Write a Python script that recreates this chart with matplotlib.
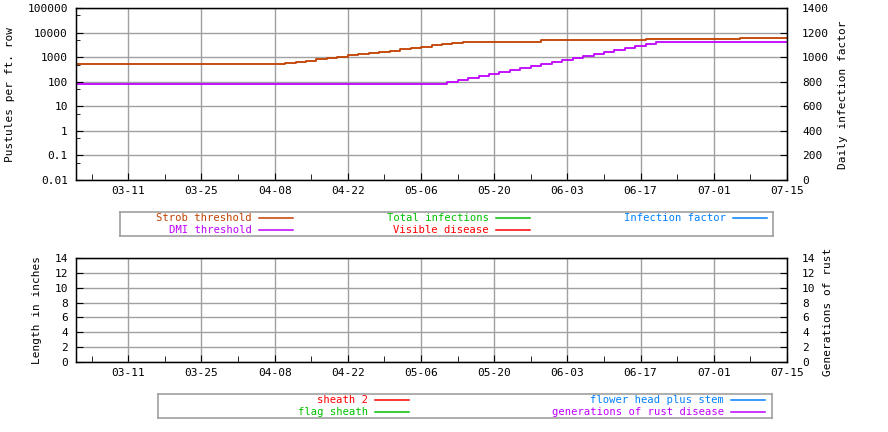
import matplotlib
matplotlib.use("Agg")
from matplotlib import pyplot as plt
from matplotlib.lines import Line2D
import matplotlib.dates as mdates
import matplotlib.ticker as mticker
import pandas as pd

YEAR = "2023-"
W, H = 888, 432

# strob threshold (pustules per ft. row), step line
strob_dates = ["03-01", "04-08", "04-10", "04-12", "04-14", "04-16", "04-18", "04-20", "04-22",
               "04-24", "04-26", "04-28", "04-30", "05-02", "05-04", "05-06", "05-08", "05-10",
               "05-12", "05-14", "05-29", "06-18", "07-06", "07-15"]
strob_vals = [510, 510, 575, 645, 725, 815, 930, 1050, 1175,
              1320, 1480, 1660, 1860, 2090, 2400, 2690, 3020, 3390,
              3800, 4270, 4900, 5400, 5900, 5900]

# DMI threshold
dmi_dates = ["03-01", "05-09", "05-11", "05-13", "05-15", "05-17", "05-19", "05-21", "05-23",
             "05-25", "05-27", "05-29", "05-31", "06-02", "06-04", "06-06", "06-08", "06-10",
             "06-12", "06-14", "06-16", "06-18", "06-20", "07-15"]
dmi_vals = [80, 81, 98, 118, 142, 171, 209, 251, 302,
            363, 437, 525, 631, 759, 912, 1100, 1350, 1620,
            1950, 2340, 2820, 3390, 4070, 4070]

# series with no data in this run
total_inf = []
visible = []
inf_factor = []
sheath2 = []
flag_sheath = []
flower_head = []
generations = []

xtick_labels = ["03-11", "03-25", "04-08", "04-22", "05-06", "05-20", "06-03", "06-17", "07-01", "07-15"]

def d(lst):
    return pd.to_datetime([YEAR + s for s in lst])

GRID = "#a0a0a0"
FONT = "DejaVu Sans Mono"
FS = 8
plt.rcParams["font.family"] = FONT
plt.rcParams["font.size"] = FS

fig = plt.figure(figsize=(W / 100, H / 100), dpi=100)

def setup_x(ax):
    ax.set_xlim(pd.Timestamp(YEAR + "03-01"), pd.Timestamp(YEAR + "07-15"))
    ax.xaxis.set_major_locator(mticker.FixedLocator(mdates.date2num(d(xtick_labels))))
    ax.xaxis.set_major_formatter(mticker.FixedFormatter(xtick_labels))
    ax.xaxis.set_minor_locator(mticker.FixedLocator(
        mdates.date2num(pd.date_range(YEAR + "03-04", YEAR + "07-15", freq="7D"))))
    ax.tick_params(axis="x", which="both", direction="in", top=False, pad=4.5)
    ax.tick_params(axis="x", which="major", length=5)
    ax.tick_params(axis="x", which="minor", length=4)
    ax.grid(True, which="major", color=GRID, lw=1.0)
    ax.set_axisbelow(True)
    for s in ax.spines.values():
        s.set_linewidth(1.0)

# ---- top chart
ax = fig.add_axes([76 / W, 1 - 180 / H, 711 / W, 172 / H])
ax.set_yscale("log")
ax.set_ylim(0.01, 100000)
setup_x(ax)
ax.yaxis.set_major_locator(mticker.LogLocator(base=10, numticks=20))
ax.yaxis.set_minor_locator(mticker.LogLocator(base=10, subs=(5,), numticks=20))
ax.yaxis.set_minor_formatter(mticker.NullFormatter())
ax.yaxis.set_major_formatter(mticker.FuncFormatter(lambda v, p: "{:g}".format(v)))
ax.tick_params(axis="y", which="both", direction="in", right=False, pad=5.8)
ax.tick_params(axis="y", which="major", length=5)
ax.tick_params(axis="y", which="minor", length=3)

l_strob, = ax.plot(d(strob_dates), strob_vals, drawstyle="steps-post", color="#c04000", lw=1.3, label="Strob threshold")
l_dmi, = ax.plot(d(dmi_dates), dmi_vals, drawstyle="steps-post", color="#c000ff", lw=1.3, label="DMI threshold")
l_tot, = ax.plot(d(total_inf), total_inf, color="#00c000", lw=1.3, label="Total infections")
l_vis, = ax.plot(d(visible), visible, color="#ff0000", lw=1.3, label="Visible disease")

ax2 = ax.twinx()
ax2.set_ylim(0, 1400)
ax2.yaxis.set_major_locator(mticker.MultipleLocator(200))
ax2.tick_params(axis="y", direction="in", length=5, pad=10.8)
l_inf, = ax2.plot(d(inf_factor), inf_factor, color="#0080ff", lw=1.3, label="Infection factor")

fig.text(10 / W, 1 - 95 / H, "Pustules per ft. row", rotation=90, ha="center", va="center")
fig.text(843 / W, 1 - 95 / H, "Daily infection factor", rotation=90, ha="center", va="center")

# ---- bottom chart
bx = fig.add_axes([76 / W, 1 - 362 / H, 711 / W, 104 / H])
bx.set_ylim(0, 14)
setup_x(bx)
bx.yaxis.set_major_locator(mticker.MultipleLocator(2))
bx.tick_params(axis="y", direction="in", right=False, length=5, pad=5.8)
b_sh2, = bx.plot(d(sheath2), sheath2, color="#ff0000", lw=1.3, label="sheath 2")
b_flag, = bx.plot(d(flag_sheath), flag_sheath, color="#00c000", lw=1.3, label="flag sheath")
b_flow, = bx.plot(d(flower_head), flower_head, color="#0080ff", lw=1.3, label="flower head plus stem")

bx2 = bx.twinx()
bx2.set_ylim(0, 14)
bx2.yaxis.set_major_locator(mticker.MultipleLocator(2))
bx2.tick_params(axis="y", direction="in", length=5, pad=10.8)
b_gen, = bx2.plot(d(generations), generations, color="#c000ff", lw=1.3, label="generations of rust disease")

fig.text(37 / W, 1 - 310 / H, "Length in inches", rotation=90, ha="center", va="center")
fig.text(828 / W, 1 - 312 / H, "Generations of rust", rotation=90, ha="center", va="center")

# ---- legends, text right-aligned with the line sample after it
LFS = 7.6

def legend_box(box, columns, col_ends, rows):
    x0, y0, x1, y1 = box
    lax = fig.add_axes([x0 / W, 1 - y1 / H, (x1 - x0) / W, (y1 - y0) / H])
    lax.set_xticks([])
    lax.set_yticks([])
    lax.patch.set_alpha(0)
    for s in lax.spines.values():
        s.set_color(GRID)
        s.set_linewidth(1.2)
    for col, xe in zip(columns, col_ends):
        for h, yr in zip(col, rows):
            fig.text((xe - 41) / W, 1 - yr / H, h.get_label(), color=h.get_color(),
                     ha="right", va="center", fontsize=LFS)
            fig.add_artist(Line2D([(xe - 34) / W, xe / W], [1 - yr / H, 1 - yr / H],
                                  transform=fig.transFigure, color=h.get_color(), lw=1.1))

legend_box((119.5, 212, 773, 236),
           [[l_strob, l_dmi], [l_tot, l_vis], [l_inf]],
           [293, 530, 767], [218, 230])
legend_box((158, 394, 772, 418),
           [[b_sh2, b_flag], [b_flow, b_gen]],
           [409, 765], [400, 412])

plt.savefig("out.png", dpi=100)
